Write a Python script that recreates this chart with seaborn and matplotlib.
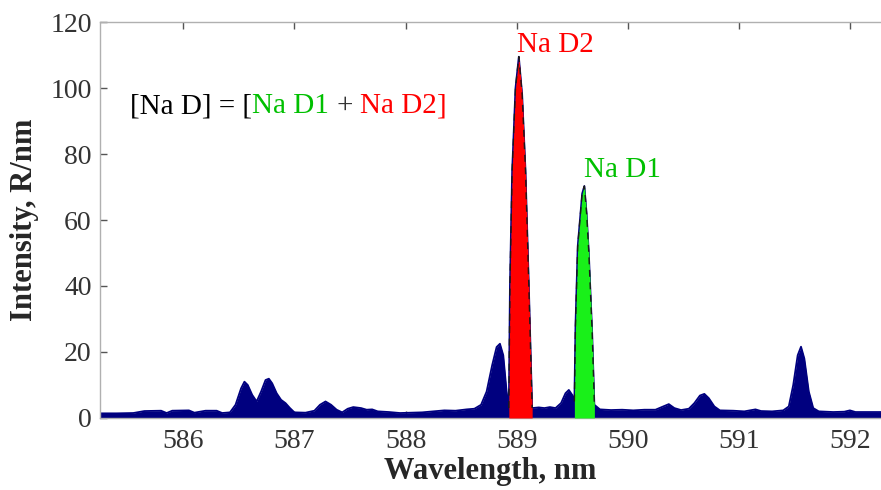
import numpy as np
import pandas as pd
import matplotlib
matplotlib.use("Agg")
import matplotlib.pyplot as plt
import seaborn as sns

# ---- data ----
wavelength = [585.25, 585.40, 585.55, 585.65, 585.80, 585.85, 585.90, 586.05, 586.10, 586.20,
              586.30, 586.35, 586.42, 586.47, 586.52, 586.55, 586.58, 586.62, 586.66, 586.70,
              586.74, 586.77, 586.80, 586.84, 586.88, 586.92, 586.96, 587.00, 587.10, 587.18,
              587.23, 587.28, 587.33, 587.38, 587.43, 587.48, 587.53, 587.60, 587.65, 587.70,
              587.75, 587.85, 587.95, 588.05, 588.15, 588.25, 588.35, 588.45, 588.55, 588.62,
              588.68, 588.73, 588.78, 588.82, 588.85, 588.88, 588.91, 588.93, 588.94, 588.96,
              588.99, 589.02, 589.05, 589.08, 589.11, 589.14, 589.20, 589.25, 589.30, 589.35,
              589.40, 589.44, 589.47, 589.50, 589.52, 589.53, 589.55, 589.59, 589.61, 589.63,
              589.65, 589.68, 589.70, 589.75, 589.85, 589.95, 590.05, 590.15, 590.25, 590.32,
              590.37, 590.42, 590.48, 590.55, 590.60, 590.65, 590.69, 590.73, 590.78, 590.83,
              590.95, 591.05, 591.15, 591.20, 591.30, 591.40, 591.45, 591.49, 591.53, 591.56,
              591.59, 591.63, 591.67, 591.72, 591.85, 591.95, 592.00, 592.05, 592.15, 592.30]
intensity = [1.4, 1.4, 1.5, 2.1, 2.2, 1.5, 2.2, 2.3, 1.6, 2.2,
             2.2, 1.5, 1.7, 4.0, 9.0, 11.0, 10.0, 7.0, 5.0, 8.0,
             11.5, 11.9, 10.5, 7.5, 5.5, 4.5, 3.0, 1.7, 1.6, 2.2,
             4.0, 5.0, 4.0, 2.5, 1.7, 2.8, 3.3, 3.0, 2.5, 2.6,
             2.0, 1.8, 1.5, 1.6, 1.7, 2.0, 2.3, 2.2, 2.6, 2.8,
             4.0, 8.0, 16.0, 21.5, 22.5, 19.0, 8.0, 3.0, 40.0, 75.0,
             100.0, 109.5, 98.0, 75.0, 40.0, 3.0, 3.2, 3.0, 3.3, 3.0,
             4.5, 7.5, 8.5, 7.0, 5.0, 28.0, 52.0, 68.0, 70.3, 62.0,
             50.0, 26.0, 4.0, 2.6, 2.4, 2.5, 2.3, 2.5, 2.5, 3.5,
             4.2, 3.0, 2.4, 2.8, 4.5, 6.8, 7.3, 6.0, 3.5, 2.3,
             2.2, 2.0, 2.6, 2.1, 2.0, 2.3, 3.5, 10.0, 19.0, 21.6,
             18.0, 8.0, 3.0, 2.0, 1.8, 1.9, 2.3, 1.8, 1.8, 1.8]
d2_range = [588.93, 589.14]
d1_range = [589.52, 589.70]
x_ticks = [586, 587, 588, 589, 590, 591, 592]
y_ticks = [0, 20, 40, 60, 80, 100, 120]

NAVY = "#00007f"
RED = "#ff0000"
GREEN_FILL = "#19f019"
GREEN_TXT = "#00c000"

df = pd.DataFrame({"wl": wavelength, "I": intensity})

sns.set_theme(style="white")
plt.rcParams["font.family"] = ["Liberation Serif", "DejaVu Serif"]

fig = plt.figure(figsize=(8.81, 4.90), dpi=100)
ax = fig.add_axes([0.1135, 0.147, 0.8865, 0.808])

sns.lineplot(data=df, x="wl", y="I", ax=ax, color=NAVY, linewidth=1.3, zorder=2)
wl = df["wl"].to_numpy()
I = df["I"].to_numpy()
ax.fill_between(wl, 0, I, color=NAVY, linewidth=0, zorder=2)

for rng, col in [(d2_range, RED), (d1_range, GREEN_FILL)]:
    m = (wl >= rng[0] - 1e-9) & (wl <= rng[1] + 1e-9)
    ax.fill_between(wl[m], 0, I[m], color=col, linewidth=0, zorder=3)
    ax.plot(wl[m], I[m], color="#1a1a1a", linewidth=1.0,
            linestyle=(0, (5, 4)), zorder=4)

ax.set_xlim(585.25, 592.28)
ax.set_ylim(0, 120)
ax.set_xticks(x_ticks)
ax.set_yticks(y_ticks)

ax.tick_params(axis="both", which="both", direction="in", length=5, width=1,
               color="#555555", labelsize=20, labelcolor="#333333")
ax.tick_params(axis="x", top=True, bottom=True, pad=8)
ax.tick_params(axis="y", left=True, right=False, pad=6)

for s in ["left", "top", "bottom"]:
    ax.spines[s].set_color("#b0b0b0")
    ax.spines[s].set_linewidth(1.0)
ax.spines["right"].set_visible(False)

ax.set_xlabel("Wavelength, nm", fontsize=22, fontweight="bold", labelpad=2)
ax.set_ylabel("Intensity, R/nm", fontsize=22, fontweight="bold", labelpad=8)

FS = 21
ax.text(589.0, 111, "Na D2", color=RED, fontsize=FS, va="baseline", ha="left", zorder=5)
ax.text(589.61, 73, "Na D1", color=GREEN_TXT, fontsize=FS, va="baseline", ha="left", zorder=5)

t1 = ax.text(585.52, 92.4, "[Na D] = [", color="black", fontsize=FS, va="baseline", ha="left")
gap = 0.25 * FS
t2 = ax.annotate("Na D1", xy=(1, 0), xycoords=t1, xytext=(0, 0), textcoords="offset points",
                 color=GREEN_TXT, fontsize=FS, va="bottom", ha="left")
t3 = ax.annotate("+", xy=(1, 0), xycoords=t2, xytext=(gap, 0), textcoords="offset points",
                 color="#333333", fontsize=FS, va="bottom", ha="left")
t4 = ax.annotate("Na D2", xy=(1, 0), xycoords=t3, xytext=(gap, 0), textcoords="offset points",
                 color=RED, fontsize=FS, va="bottom", ha="left")
t5 = ax.annotate("]", xy=(1, 0), xycoords=t4, xytext=(0, 0), textcoords="offset points",
                 color=RED, fontsize=FS, va="bottom", ha="left")

fig.savefig("out.png", dpi=100)
